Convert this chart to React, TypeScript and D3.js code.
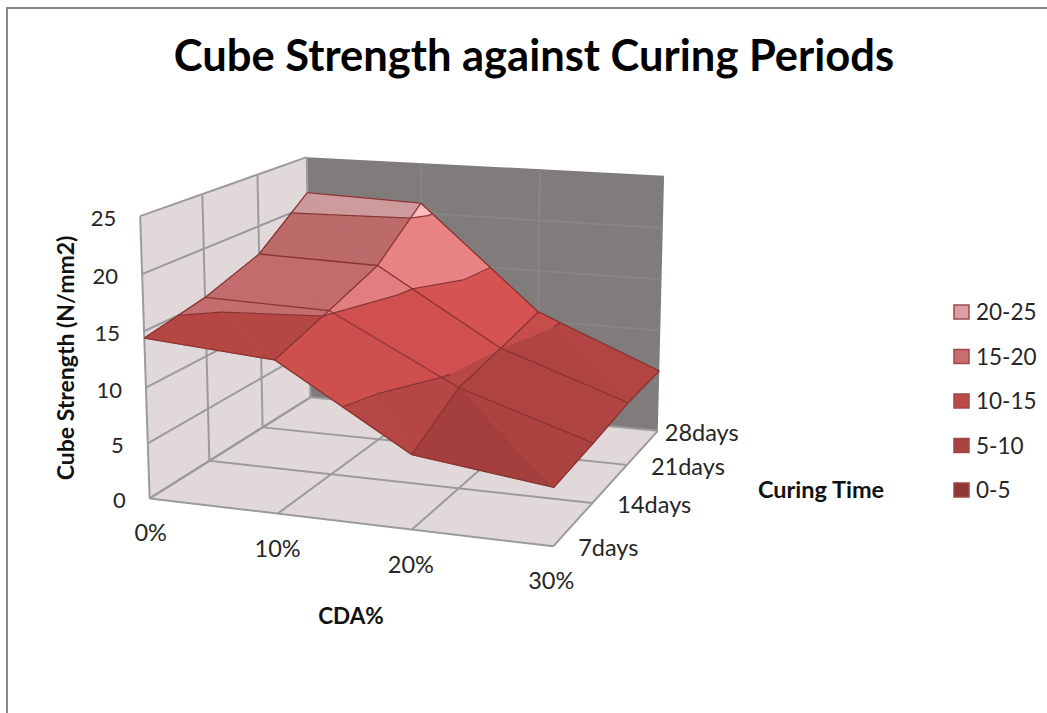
import React from "react";
import * as d3 from "d3";

const cdaLabels = ["0%", "10%", "20%", "30%"];
const dayLabels = ["7days", "14days", "21days", "28days"];
const days7 = [14.4, 13.5, 6.5, 5.0];
const days14 = [15.5, 15.2, 9.2, 5.4];
const days21 = [17.3, 17.0, 10.0, 5.9];
const days28 = [21.4, 21.0, 10.9, 6.0];
const rows = [days7, days14, days21, days28];
const yTicks = [0, 5, 10, 15, 20, 25];
const bandNames = ["20-25", "15-20", "10-15", "5-10", "0-5"];
const bandLegend = ["#d9a0a3", "#c86e70", "#bc4a48", "#a84341", "#8f3534"];
const bandBase: Record<string, string> = { "0-5": "#8f3534", "5-10": "#a03e3c", "10-15": "#b54644", "15-20": "#c56e6f", "20-25": "#d6a0a2" };

// camera calibration: unit cube corner -> screen
const calib: number[][] = [
  [0, 0, 0, 150, 498], [1, 0, 0, 553, 547], [1, 1, 0, 658, 430], [0, 1, 0, 310, 398],
  [0, 0, 1, 140, 216], [0, 1, 1, 307, 157], [1, 1, 1, 664, 176],
];
function solveCamera(): number[] {
  const A: number[][] = [], b: number[] = [];
  for (const [x, z, y, u, v] of calib) {
    A.push([x, z, y, 1, 0, 0, 0, 0, -u * x, -u * z, -u * y]); b.push(u);
    A.push([0, 0, 0, 0, x, z, y, 1, -v * x, -v * z, -v * y]); b.push(v);
  }
  const n = 11;
  const N = d3.range(n).map((i) => [...d3.range(n).map((j) => d3.sum(A, (r) => r[i] * r[j])), d3.sum(A, (r, k) => r[i] * b[k])]);
  for (let c = 0; c < n; c++) {
    let p = c;
    for (let r = c + 1; r < n; r++) if (Math.abs(N[r][c]) > Math.abs(N[p][c])) p = r;
    [N[c], N[p]] = [N[p], N[c]];
    for (let r = 0; r < n; r++) {
      if (r === c) continue;
      const f = N[r][c] / N[c][c];
      for (let k = c; k <= n; k++) N[r][k] -= f * N[c][k];
    }
  }
  return N.map((r, i) => r[n] / r[i]);
}
const m = solveCamera();
const xS = d3.scaleLinear().domain([0, 3]).range([0, 1]);
const zS = d3.scaleLinear().domain([0, 3]).range([0, 1]);
const yS = d3.scaleLinear().domain([0, 25]).range([0, 1]);
type P3 = [number, number, number];
function proj([xi, zi, val]: P3): [number, number] {
  const x = xS(xi), z = zS(zi), y = yS(val);
  const w = m[8] * x + m[9] * z + m[10] * y + 1;
  return [(m[0] * x + m[1] * z + m[2] * y + m[3]) / w, (m[4] * x + m[5] * z + m[6] * y + m[7]) / w];
}
const line = d3.line<[number, number]>();
const path3 = (pts: P3[], close = false) => line(pts.map(proj)) + (close ? "Z" : "");

function clip(poly: P3[], level: number, keepAbove: boolean): P3[] {
  const out: P3[] = [];
  const inside = (p: P3) => (keepAbove ? p[2] >= level : p[2] <= level);
  poly.forEach((a, i) => {
    const b = poly[(i + 1) % poly.length];
    if (inside(a)) out.push(a);
    if (inside(a) !== inside(b)) {
      const t = (level - a[2]) / (b[2] - a[2]);
      out.push([a[0] + t * (b[0] - a[0]), a[1] + t * (b[1] - a[1]), level]);
    }
  });
  return out;
}
function cross(tri: P3[], level: number): P3[] | null {
  const pts: P3[] = [];
  tri.forEach((a, i) => {
    const b = tri[(i + 1) % 3];
    if ((a[2] - level) * (b[2] - level) < 0) {
      const t = (level - a[2]) / (b[2] - a[2]);
      pts.push([a[0] + t * (b[0] - a[0]), a[1] + t * (b[1] - a[1]), level]);
    }
  });
  return pts.length === 2 ? pts : null;
}
function gradient([a, b, c]: P3[]) {
  const d1 = [b[0] - a[0], b[1] - a[1], b[2] - a[2]], d2 = [c[0] - a[0], c[1] - a[1], c[2] - a[2]];
  const det = d1[0] * d2[1] - d1[1] * d2[0];
  return [(d1[2] * d2[1] - d1[1] * d2[2]) / det, (d1[0] * d2[2] - d1[2] * d2[0]) / det];
}
// lighting: a blend of the triangle's own slope and the whole cell's slope
const triWeight = [0.2, 0.1, 0.6];
function shade(tri: P3[], cell: number[], w: number, base: string) {
  const g = gradient(tri);
  const gx = w * g[0] + (1 - w) * cell[0], gz = w * g[1] + (1 - w) * cell[1];
  const f = 1 - 0.012 * gz - 0.025 * gx;
  const col = d3.rgb(base);
  return d3.rgb(Math.min(255, col.r * f), Math.min(255, col.g * f), Math.min(255, col.b * f)).formatHex();
}

const FONT = "Lato, sans-serif";
const txt = "#262626";
const dayDx = [25, 25, 24, 7];

export default function App() {
  const facets: { d: string; fill: string }[] = [];
  const contours: string[] = [];
  for (let zi = 2; zi >= 0; zi--) {
    for (let xi = 0; xi < 3; xi++) {
      const p00: P3 = [xi, zi, rows[zi][xi]], p10: P3 = [xi + 1, zi, rows[zi][xi + 1]];
      const p01: P3 = [xi, zi + 1, rows[zi + 1][xi]], p11: P3 = [xi + 1, zi + 1, rows[zi + 1][xi + 1]];
      const tris = [[p00, p10, p01], [p10, p11, p01]] as P3[][];
      const g0 = gradient(tris[0]), g1 = gradient(tris[1]);
      const cell = [(g0[0] + g1[0]) / 2, (g0[1] + g1[1]) / 2];
      for (const tri of tris) {
        for (let lo = 0; lo < 25; lo += 5) {
          const poly = clip(clip(tri, lo, true), lo + 5, false);
          if (poly.length < 3) continue;
          const fill = shade(tri, cell, triWeight[xi], bandBase[`${lo}-${lo + 5}`]);
          facets.push({ d: path3(poly, true), fill });
        }
        for (const lv of [5, 10, 15, 20]) {
          const seg = cross(tri, lv);
          if (seg) contours.push(path3(seg));
        }
      }
    }
  }
  const gridLines: string[] = [];
  rows.forEach((r, zi) => gridLines.push(path3(r.map((v, xi) => [xi, zi, v] as P3))));
  d3.range(4).forEach((xi) => gridLines.push(path3(rows.map((r, zi) => [xi, zi, r[xi]] as P3))));

  const lw = "#9b9b9b";
  return (
    <svg width={1047} height={713} style={{ position: "absolute", left: 0, top: 0, background: "#fff" }} fontFamily={FONT}>
      <path d="M7,713V8H1047" fill="none" stroke="#8a8a8a" strokeWidth={2} />
      <text x={534} y={71} textAnchor="middle" fontSize={43.5} fontWeight={700} fill="#000">Cube Strength against Curing Periods</text>

      {/* walls */}
      <path d={path3([[0, 3, 0], [3, 3, 0], [3, 3, 25], [0, 3, 25]], true)} fill="#807c7b" />
      <path d={path3([[0, 0, 0], [0, 3, 0], [0, 3, 25], [0, 0, 25]], true)} fill="#e1d9d9" />
      <path d={path3([[0, 0, 0], [3, 0, 0], [3, 3, 0], [0, 3, 0]], true)} fill="#e1d9d9" />
      {yTicks.map((t) => (
        <g key={t} fill="none">
          {t > 0 && t < 25 && <path d={path3([[0, 3, t], [3, 3, t]])} stroke="#878888" strokeWidth={1.5} />}
          <path d={path3([[0, 0, t], [0, 3, t]])} stroke={lw} strokeWidth={2} />
        </g>
      ))}
      {d3.range(4).map((i) => (
        <g key={i} fill="none">
          {i > 0 && i < 3 && <path d={path3([[i, 3, 0], [i, 3, 25]])} stroke="#878888" strokeWidth={1.5} />}
          <path d={path3([[0, i, 0], [0, i, 25]])} stroke={lw} strokeWidth={2} />
          <path d={path3([[i, 0, 0], [i, 3, 0]])} stroke={lw} strokeWidth={2} />
          <path d={path3([[0, i, 0], [3, i, 0]])} stroke={lw} strokeWidth={2} />
        </g>
      ))}

      {/* surface */}
      {facets.map((f, i) => <path key={i} d={f.d} fill={f.fill} stroke={f.fill} strokeWidth={0.7} />)}
      <g fill="none" stroke="#8a3434" strokeWidth={1.3}>
        {contours.map((d, i) => <path key={i} d={d} />)}
        {gridLines.map((d, i) => <path key={i} d={d} />)}
      </g>

      {/* axis text */}
      <g fontSize={22} fill={txt}>
        {yTicks.map((t) => {
          const [px, py] = proj([0, 0, t]);
          return <text key={t} x={px - 24} y={py + 10} textAnchor="end">{t}</text>;
        })}
      </g>
      <g fontSize={23.5} fill={txt}>
        {cdaLabels.map((l, i) => {
          const [px, py] = proj([i, 0, 0]);
          return <text key={l} x={px + 1 - i} y={py + 43} textAnchor="middle">{l}</text>;
        })}
        {dayLabels.map((l, i) => {
          const [px, py] = proj([3, i, 0]);
          return <text key={l} x={px + dayDx[i]} y={py + 10} textAnchor="start">{l}</text>;
        })}
      </g>
      <g fontWeight={700} fill="#111">
        <text x={351} y={624} textAnchor="middle" fontSize={22.5}>CDA%</text>
        <text x={821} y={498} textAnchor="middle" fontSize={23.5}>Curing Time</text>
        <text transform="translate(74,358) rotate(-90)" textAnchor="middle" fontSize={23}>Cube Strength (N/mm2)</text>
      </g>

      {/* legend */}
      {bandNames.map((n, i) => {
        const y = d3.scaleLinear().domain([0, 4]).range([312, 490])(i);
        return (
          <g key={n}>
            <rect x={954} y={y - 7} width={15} height={14} fill={bandLegend[i]} stroke="#a04848" strokeWidth={1.5} />
            <text x={976} y={y + 8} fontSize={22.5} fill={txt}>{n}</text>
          </g>
        );
      })}
    </svg>
  );
}
